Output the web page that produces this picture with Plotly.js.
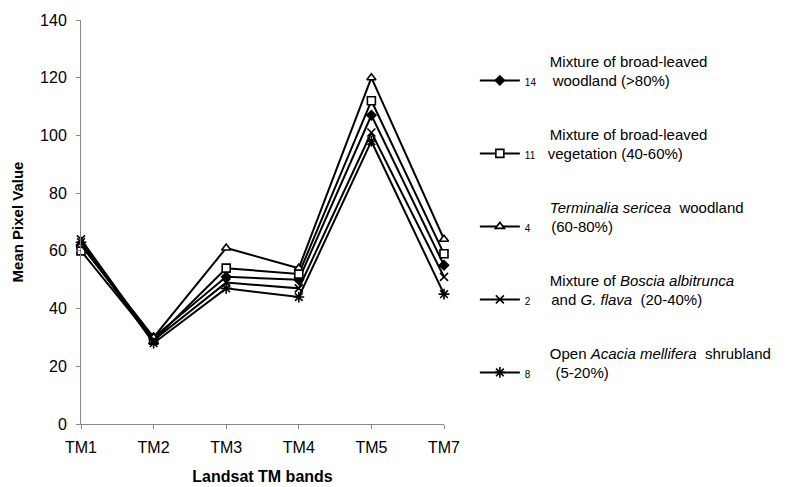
<!DOCTYPE html>
<html>
<head>
<meta charset="utf-8">
<script src="https://cdn.plot.ly/plotly-3.0.1.min.js"></script>
<style>html,body{margin:0;padding:0;background:#fff;}#chart{width:801px;height:487px;}</style>
</head>
<body>
<div id="chart"></div>
<script>
const bands = ["TM1", "TM2", "TM3", "TM4", "TM5", "TM7"];
const yTicks = [0, 20, 40, 60, 80, 100, 120, 140];

const broadWoodland = [62, 30, 51, 50, 107, 55];   // 14
const broadVegetation = [60, 29, 54, 52, 112, 59]; // 11
const terminalia = [62, 30, 61, 54, 120, 64];      // 4
const boscia = [64, 29, 49, 47, 101, 51];          // 2
const acacia = [63, 28, 47, 44, 98, 45];           // 8

const nb = "\u00a0";
function pad(n){ return nb.repeat(n); }
const small = (s) => "<span style='font-size:10px'>" + s + "</span>";

const names = [
  pad(6) + "Mixture of broad-leaved<br>" + small("14") + pad(3) + " woodland (>80%)",
  pad(6) + "Mixture of broad-leaved<br>" + small("11") + pad(3) + "vegetation (40-60%)",
  pad(6) + "<i>Terminalia sericea</i>  woodland<br>" + small("4") + pad(4) + " (60-80%)",
  pad(6) + "Mixture of <i>Boscia albitrunca</i><br>" + small("2") + pad(4) + " and <i>G. flava</i>  (20-40%)",
  pad(6) + "Open <i>Acacia mellifera</i>  shrubland<br>" + small("8") + pad(5) + " (5-20%)"
];

const series = [broadWoodland, broadVegetation, terminalia, boscia, acacia];
const symbols = ["diamond", "square", "triangle-up", "x-thin-open", "asterisk-open"];
const fills = ["#000", "#fff", "#fff", "#000", "#000"];
const sizes = [7, 8, 8, 8, 9];

const traces = series.map((vals, i) => ({
  x: bands,
  y: vals,
  type: "scatter",
  mode: "lines+markers",
  name: names[i],
  legendgroup: "g" + i,
  line: {color: "#000", width: 2},
  marker: {symbol: symbols[i], size: sizes[i], color: fills[i], line: {color: "#000", width: 1.6}},
  cliponaxis: false
}));

const layout = {
  width: 801, height: 487,
  margin: {l: 81, r: 357, t: 20, b: 63},
  paper_bgcolor: "#fff", plot_bgcolor: "#fff",
  font: {family: "Liberation Sans, Arial, sans-serif", color: "#000", size: 15},
  showlegend: true,
  legend: {
    x: 1.085, y: 0.939, xanchor: "left", yanchor: "top",
    valign: "bottom",
    tracegroupgap: 31,
    itemwidth: 40,
    font: {family: "Liberation Sans, Arial, sans-serif", size: 15, color: "#000"},
    bgcolor: "rgba(0,0,0,0)",
    traceorder: "grouped"
  },
  xaxis: {
    type: "category",
    categoryarray: bands,
    range: [0, 5],
    showgrid: false, zeroline: false,
    showline: true, linecolor: "#888", linewidth: 1,
    ticks: "outside", ticklen: 4, tickcolor: "#888",
    ticklabelstandoff: 5,
    tickfont: {size: 16, family: "Liberation Sans, Arial, sans-serif"},
    title: {text: "<b>Landsat TM bands</b>", font: {size: 16}, standoff: 15}
  },
  yaxis: {
    range: [0, 140],
    tickvals: yTicks,
    showgrid: false, zeroline: false,
    showline: true, linecolor: "#888", linewidth: 1,
    ticks: "outside", ticklen: 4, tickcolor: "#888",
    ticklabelstandoff: 6,
    tickfont: {size: 16, family: "Liberation Sans, Arial, sans-serif"},
    title: {text: "<b>Mean Pixel Value</b>", font: {size: 15}, standoff: 12}
  }
};

Plotly.newPlot("chart", traces, layout, {staticPlot: true, displayModeBar: false});
</script>
</body>
</html>
